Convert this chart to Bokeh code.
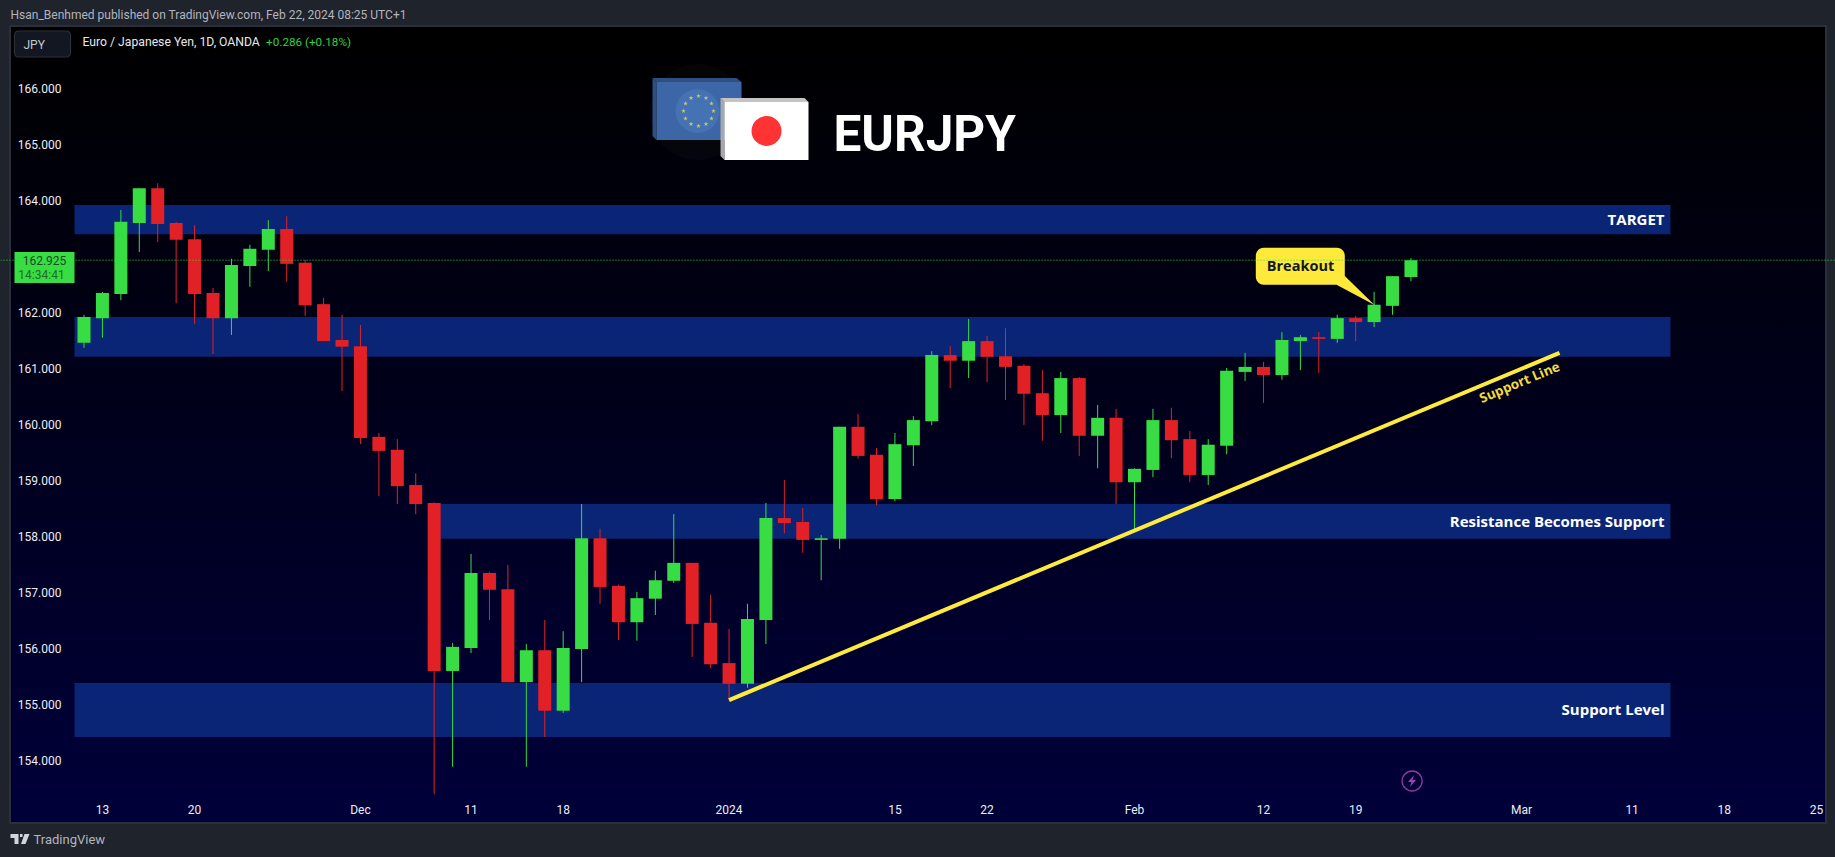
import math
from bokeh.embed import file_html
from bokeh.resources import INLINE
from bokeh.plotting import figure
from bokeh.models import Label, PolyAnnotation, Span, FixedTicker, ColumnDataSource, NumeralTickFormatter

# ---- data ----------------------------------------------------------------------
direction = list("GGGGRRRRGGGRRRRRRRRRGGRRGRGGRRGGGRRRGGRRGGRRGGGRGRRRRGRGRGGRRGGGRGGRGRGGG")
highs = [161.95,162.36,163.82,164.21,164.30,163.61,163.55,162.43,162.95,163.20,163.64,163.71,162.93,162.25,161.95,161.77,159.84,159.73,159.12,158.60,
         156.09,157.68,157.36,157.48,156.07,156.50,156.30,158.57,158.13,157.13,157.00,157.38,158.39,157.52,156.95,156.34,156.79,158.59,159.00,158.50,
         158.02,159.95,160.18,159.57,159.84,160.14,161.30,161.39,161.875,161.57,161.71,161.07,160.96,160.93,160.84,160.34,160.27,159.21,160.27,160.29,
         159.875,159.73,161.00,161.27,161.11,161.64,161.59,161.64,161.95,161.93,162.36,162.64,162.96]
body_tops = [161.91,162.34,163.61,164.21,164.21,163.59,163.30,162.34,162.84,163.13,163.48,163.48,162.88,162.14,161.50,161.39,159.77,159.54,158.91,158.59,
         156.02,157.34,157.34,157.05,155.96,155.96,156.00,157.96,157.96,157.11,156.89,157.21,157.52,157.52,156.45,155.73,156.52,158.32,158.32,158.25,
         157.96,159.95,159.95,159.45,159.64,160.07,161.23,161.23,161.48,161.48,161.21,161.04,160.55,160.82,160.82,160.11,160.11,159.20,160.07,160.07,
         159.73,159.63,160.95,161.02,161.02,161.50,161.55,161.55,161.89,161.89,162.13,162.64,162.925]
body_bottoms = [161.45,161.89,162.32,163.59,163.57,163.29,162.32,161.89,161.89,162.82,163.11,162.86,162.12,161.48,161.38,159.75,159.52,158.89,158.57,155.59,
         155.59,156.00,157.04,155.39,155.39,154.88,154.88,155.98,157.09,156.46,156.46,156.88,157.20,156.43,155.71,155.36,155.36,156.50,158.23,157.93,
         157.93,157.95,159.43,158.66,158.66,159.62,160.05,161.13,161.13,161.20,161.02,160.54,160.16,160.16,159.79,159.79,158.96,158.96,159.18,159.71,
         159.09,159.09,159.61,160.93,160.875,160.875,161.48,161.52,161.52,161.82,161.82,162.11,162.625]
lows = [161.36,161.54,162.21,163.07,163.25,162.16,161.79,161.25,161.59,162.45,162.73,162.54,161.93,161.48,160.59,159.64,158.71,158.57,158.39,153.39,
         153.88,155.91,156.50,155.39,153.88,154.41,154.84,155.39,156.79,156.14,156.13,156.59,157.16,155.84,155.64,155.07,155.29,156.07,158.05,157.70,
         157.21,157.77,159.38,158.55,158.62,159.25,159.98,160.64,160.82,160.75,160.43,159.98,159.70,159.84,159.43,159.21,158.57,158.09,159.05,159.39,
         158.96,158.91,159.46,160.77,160.375,160.79,160.96,160.91,161.45,161.48,161.73,161.95,162.55]

price_ticks = [154,155,156,157,158,159,160,161,162,163,164,165,166]
date_ticks = [1,6,15,21,26,35,44,49,57,64,69,78,84,89,94]
date_labels = ["13","20","Dec","11","18","2024","15","22","Feb","12","19","Mar","11","18","25"]

band_tops = [163.91,161.91,158.57,155.375]
band_bottoms = [163.39,161.20,157.95,154.41]
band_starts = [-0.515,-0.515,19,-0.515]
band_end = 86.08

trend_x = [35,80.06]
trend_y = [155.07,161.27]
last_price = 162.925

# ---- scale helpers: reference pixel -> chart units, for decorations only --------
BAR = 18.43
def X(px): return (px-83.5)/BAR
def Y(py): return 162-(py-312)/56

FONT = "Roboto"
GREEN = "#37dd42"
RED = "#e22126"
BAND = "#0a2575"
YEL = "#ffeb3b"
PAGE = "#1f232c"
EDGE = "#2b2f39"

p = figure(width=1835, height=857, output_backend="svg", toolbar_location=None,
           x_range=(X(0),X(1835)), y_range=(Y(857.5),Y(0.5)),
           min_border_left=0, min_border_right=0, min_border_top=0, min_border_bottom=0,
           background_fill_color=None, border_fill_color=None, outline_line_color=None)
p.styles = {"background":
    "linear-gradient(#000000,#00003a) no-repeat 11px 27px / 1814px 795px,"
    f"linear-gradient({EDGE},{EDGE}) no-repeat 9px 25px / 1818px 799px,"
    f"{PAGE}"}
p.grid.visible = False

p.yaxis.ticker = FixedTicker(ticks=price_ticks)
p.yaxis.formatter = NumeralTickFormatter(format="0.000")
p.xaxis.ticker = FixedTicker(ticks=date_ticks)
p.xaxis.major_label_overrides = dict(zip(date_ticks,date_labels))
for ax in (p.xaxis[0],p.yaxis[0]):
    ax.axis_line_color = None
    ax.major_tick_line_color = None
    ax.minor_tick_line_color = None
    ax.major_label_text_color = "#eceef3"
    ax.major_label_text_font = FONT
    ax.major_label_text_font_size = "12px"
p.yaxis.fixed_location = X(74)
p.xaxis.fixed_location = Y(797)
p.yaxis.major_label_standoff = 7
p.xaxis.major_label_standoff = 0

# bands
p.quad(left=band_starts,right=[band_end]*4,top=band_tops,bottom=band_bottoms,fill_color=BAND,line_color=None)

# candles
idx = list(range(len(highs)))
colors = [GREEN if d=="G" else RED for d in direction]
src = ColumnDataSource(dict(i=idx,h=highs,l=lows,t=body_tops,b=body_bottoms,c=colors))
p.segment("i","h","i","l",source=src,line_color="c",line_width=1)
p.vbar("i",width=13/BAR,top="t",bottom="b",source=src,fill_color="c",line_color=None)

# trend line
p.line(trend_x,trend_y,line_color=YEL,line_width=4)

# flags
def rect(x0,y0,x1,y1): return [X(x0),X(x1),X(x1),X(x0)],[Y(y0),Y(y0),Y(y1),Y(y1)]
p.scatter([X(697)],[Y(112)],size=96,marker="circle",fill_color="#5a5a50",fill_alpha=0.06,line_color=None)
xs,ys = [X(652),X(656),X(656),X(652)],[Y(78),Y(82),Y(140),Y(136)]
p.patch(xs,ys,fill_color="#2f4f80",line_color=None)
xs,ys = [X(652),X(736),X(741),X(656)],[Y(78),Y(78),Y(82),Y(82)]
p.patch(xs,ys,fill_color="#2f4f80",line_color=None)
xs,ys = rect(656,82,741,140)
p.patch(xs,ys,fill_color="#3c66a6",line_color=None)
p.scatter([X(697)],[Y(111)],size=44,marker="circle",fill_color="#4a7cbc",fill_alpha=0.55,line_color=None)
star_x = [X(698+15*math.sin(k*math.pi/6)) for k in range(12)]
star_y = [Y(111-15*math.cos(k*math.pi/6)) for k in range(12)]
p.scatter(star_x,star_y,marker="star",size=5,fill_color="#c8c47c",line_color=None)
xs,ys = [X(720),X(804),X(808),X(724)],[Y(98),Y(98),Y(102),Y(102)]
p.patch(xs,ys,fill_color="#c4c4c4",line_color=None)
xs,ys = [X(720),X(724),X(724),X(720)],[Y(98),Y(102),Y(160),Y(156)]
p.patch(xs,ys,fill_color="#a8a8a8",line_color=None)
xs,ys = rect(724,102,808,160)
p.patch(xs,ys,fill_color="#ffffff",line_color=None)
p.scatter([X(766)],[Y(131)],size=30,marker="circle",fill_color="#ff3333",line_color=None)

# callout
def rounded(x0,y0,x1,y1,r,n=6):
    out=[]
    for cx,cy,a0 in ((x1-r,y0+r,-90),(x1-r,y1-r,0),(x0+r,y1-r,90),(x0+r,y0+r,180)):
        for k in range(n+1):
            a=math.radians(a0+90*k/n)
            out.append((cx+r*math.cos(a),cy+r*math.sin(a)))
    return out
pts = rounded(1255.3,247.7,1344.3,284.7,8)
p.patch([X(a) for a,_ in pts],[Y(b) for _,b in pts],fill_color="#ffe93a",line_color=None)
p.patch([X(1336),X(1344.3),X(1374)],[Y(284.7),Y(276),Y(305)],fill_color="#ffe93a",line_color=None)

# bolt icon
p.scatter([X(1411.6)],[Y(781)],size=20,marker="circle",fill_color=None,line_color="#8f3a9f",line_width=1.3)
bx=[1413.5,1407.5,1411,1409.5,1415.5,1412]; by=[775,782,782,787,780,780]
p.patch([X(a) for a in bx],[Y(b) for b in by],fill_color="#a03fb2",line_color=None)

def poly(pts,fill,edge=None):
    p.add_layout(PolyAnnotation(xs=[X(a) for a,_ in pts],ys=[Y(b) for _,b in pts],fill_color=fill,fill_alpha=1,
                                line_color=edge,line_alpha=1 if edge else 0,line_width=1.2))
def label(txt,x,y,size,color,align="left",weight="normal",angle=0,font=FONT):
    p.add_layout(Label(x=X(x),y=Y(y),text=txt,text_font=font,text_font_size=f"{size}px",text_color=color,
                       text_align=align,text_baseline="middle",text_font_style=weight,angle=angle,angle_units="deg"))

# current price
p.add_layout(Span(location=last_price,dimension="width",line_color="#22e83a",line_width=1,line_dash="1 2"))
poly([(14,252),(74,252),(74,283),(14,283)],"#37dd42")
label("162.925",44,260.5,12,"#1b4a22","center")
label("14:34:41",41,275,12,"#1f6b2a","center")

# top-left furniture
poly(rounded(14,31,70,57,4),"#131722",EDGE)
label("JPY",23,44.5,12,"#c4c7ce")
label("Euro / Japanese Yen, 1D, OANDA",82,42,12.2,"#e6e8ee")
label("+0.286 (+0.18%)",265.6,42,11.7,"#2fd13f")
label("Hsan_Benhmed published on TradingView.com, Feb 22, 2024 08:25 UTC+1",10,15,12,"#b2b5be")

# footer
poly([(10,834),(18,834),(18,844),(14,844),(14,838),(10,838)],"#d1d4dc")
poly([(19.5,834),(22,834),(22,837),(19.5,837)],"#d1d4dc")
poly([(24,834),(29,834),(25,844),(20.5,844)],"#d1d4dc")
label("TradingView",33,839,13,"#b2b5be")

# chart texts
B = "Open Sans"
label("EURJPY",833,133.5,49.5,"#ffffff",weight="bold",font="Roboto")
label("TARGET",1664,219,15,"#ffffff","right","bold",font=B)
label("Resistance Becomes Support",1664,521,15,"#ffffff","right","bold",font=B)
label("Support Level",1664,709,15,"#ffffff","right","bold",font=B)
label("Support Line",1519,382,13.5,"#f0dc3a","center","bold",angle=22.7,font=B)
label("Breakout",1300,265.5,14.5,"#131722","center","bold",font=B)

html = file_html(p, INLINE)
css = f"<style>html,body{{margin:0 !important;padding:0 !important;background:{PAGE} !important;overflow:hidden}}</style>"
html = html.replace("</head>", css+"</head>",1)
open("out.html","w").write(html)
